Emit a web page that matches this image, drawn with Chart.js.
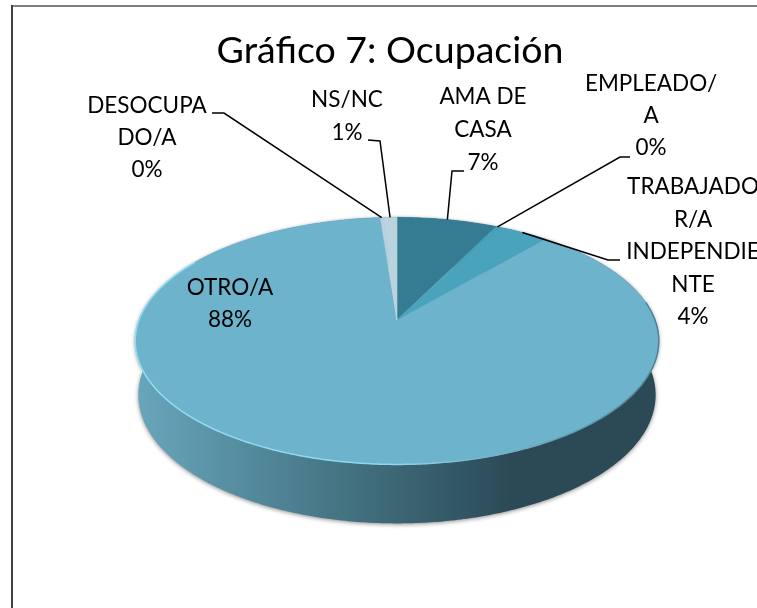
<!DOCTYPE html>
<html>
<head>
<meta charset="utf-8">
<title>Gráfico 7: Ocupación</title>
<script src="https://cdn.jsdelivr.net/npm/chart.js@4"></script>
<style>
    html, body { margin: 0; padding: 0; background: #fff; overflow: hidden; }
    canvas { display: block; }
</style>
</head>
<body>
<canvas id="chart" width="757" height="608"></canvas>
<script>
// Data (clockwise from 12 o'clock)
const categories = ["AMA DE CASA", "EMPLEADO/A", "TRABAJADOR/A INDEPENDIENTE", "OTRO/A", "DESOCUPADO/A", "NS/NC"];
const values = [7.3, 0.2, 3.7, 87.6, 0.2, 1.0];
const sliceColors = ["#357c93", "#49a3bc", "#49a3bc", "#6db3cc", "#b9d3df", "#b9d3df"];

// How Excel wrapped each label, and where it put them
const labelLines = [
    ["AMA DE", "CASA"],
    ["EMPLEADO/", "A"],
    ["TRABAJADO", "R/A", "INDEPENDIE", "NTE"],
    ["OTRO/A"],
    ["DESOCUPA", "DO/A"],
    ["NS/NC"]
];
const labelCenters = [[483, 97], [651, 84], [693, 187], [230, 288], [147, 106], [347, 100]];
const lineHeights = [33, 32, 32.5, 32, 32, 33];
// first two points of each leader, null = no leader (label sits on its slice)
const leaders = [
    [[464, 171], [452, 171]],
    [[630, 157], [620, 157]],
    [[620, 260], [608, 260]],
    null,
    [[212, 113], [224, 113]],
    [[368, 140], [380, 141]]
];

const FONT = "Lato, 'Open Sans', sans-serif";

// Excel's 3D pie is a circle seen in perspective: the centre is not the middle of the ellipse
const stretchX = 2.15;
const perspective = -0.169;
const shiftX = 7;

function project(arc, angle, radius) {
    // chart.js angles start at -PI/2, so cos/sin give a point on the flat circle
    const u = Math.cos(angle) * radius;
    const v = Math.sin(angle) * radius;
    const d = 1 + perspective * v;
    return {
        x: arc.x + shiftX + stretchX * arc.outerRadius * u / d,
        y: arc.y + arc.outerRadius * v / d,
        v: v
    };
}

function tracePoints(ctx, arc, start, end, map) {
    const steps = Math.max(2, Math.ceil(Math.abs(end - start) / 0.01));
    for (let i = 0; i <= steps; i++) {
        const p = map(project(arc, start + (end - start) * i / steps, 1));
        ctx.lineTo(p.x, p.y);
    }
}

const lowerRim = cx => p => ({
    x: cx + (p.x - cx) * 0.988,
    y: p.y + 53 + 6 * p.v
});

const pie3d = {
    id: "pie3d",
    beforeDraw(chart) {
        const ctx = chart.ctx;
        ctx.save();
        ctx.fillStyle = "#fff";
        ctx.fillRect(0, 0, chart.width, chart.height);
        ctx.fillStyle = "#7f7f7f";
        ctx.fillRect(11, 5, chart.width - 11, 2);
        ctx.fillStyle = "#404040";
        ctx.fillRect(11, 5, 2, chart.height - 5);
        ctx.restore();
    },
    beforeDatasetDraw(chart, args) {
        const ctx = chart.ctx;
        const arcs = chart.getDatasetMeta(args.index).data;

        // side wall first, the top face covers its back half
        arcs.forEach(arc => {
            const cx = arc.x + shiftX;
            const wall = ctx.createLinearGradient(cx - 260, 0, cx + 260, 0);
            wall.addColorStop(0, "#68a6bc");
            wall.addColorStop(0.42, "#42707f");
            wall.addColorStop(0.72, "#2b4a56");
            wall.addColorStop(1, "#2b4a56");
            ctx.save();
            ctx.fillStyle = wall;
            ctx.shadowColor = "rgba(0,0,0,0.45)";
            ctx.shadowBlur = 4;
            ctx.shadowOffsetY = 1;
            ctx.beginPath();
            tracePoints(ctx, arc, arc.startAngle, arc.endAngle, p => p);
            tracePoints(ctx, arc, arc.endAngle, arc.startAngle, lowerRim(cx));
            ctx.closePath();
            ctx.fill();
            ctx.restore();
        });

        // top face, biggest slice first so the small wedges sit on it without dark seams
        const order = arcs.map((arc, i) => i).sort((a, b) =>
            (arcs[b].endAngle - arcs[b].startAngle) - (arcs[a].endAngle - arcs[a].startAngle));
        order.forEach(i => {
            const arc = arcs[i];
            const apex = project(arc, 0, 0);
            ctx.save();
            ctx.fillStyle = sliceColors[i];
            ctx.strokeStyle = sliceColors[i];
            ctx.lineWidth = 0.6;
            ctx.lineJoin = "round";
            ctx.beginPath();
            ctx.moveTo(apex.x, apex.y);
            tracePoints(ctx, arc, arc.startAngle, arc.endAngle, p => p);
            ctx.closePath();
            ctx.fill();
            ctx.stroke();

            // bevel along the front rim of the big slice: light on the left, darker on the right
            if (arc.endAngle - arc.startAngle > Math.PI) {
                const cx = arc.x + shiftX;
                const edge = ctx.createLinearGradient(cx - 260, 0, cx + 260, 0);
                edge.addColorStop(0, "#93dcf2");
                edge.addColorStop(0.5, "#8fd6ec");
                edge.addColorStop(0.62, "#7fbdd2");
                edge.addColorStop(1, "#4f8296");
                ctx.strokeStyle = edge;
                ctx.lineWidth = 1.5;
                ctx.beginPath();
                tracePoints(ctx, arc, -0.15, Math.PI + 0.55, p => p);
                ctx.stroke();
            }
            ctx.restore();
        });
        return false;
    },
    afterDatasetsDraw(chart) {
        const ctx = chart.ctx;
        const arcs = chart.getDatasetMeta(0).data;
        const total = values.reduce((a, b) => a + b, 0);

        ctx.save();
        ctx.strokeStyle = "#000";
        ctx.lineWidth = 1.5;
        arcs.forEach((arc, i) => {
            if (!leaders[i]) return;
            const rim = project(arc, (arc.startAngle + arc.endAngle) / 2, 1);
            ctx.beginPath();
            ctx.moveTo(leaders[i][0][0], leaders[i][0][1]);
            ctx.lineTo(leaders[i][1][0], leaders[i][1][1]);
            ctx.lineTo(rim.x, rim.y);
            ctx.stroke();
        });

        ctx.fillStyle = "#000";
        ctx.font = "22.5px " + FONT;
        ctx.textAlign = "center";
        ctx.textBaseline = "middle";
        categories.forEach((name, i) => {
            const lines = labelLines[i].concat(Math.round(values[i] / total * 100) + "%");
            lines.forEach((line, n) => {
                ctx.fillText(line, labelCenters[i][0], labelCenters[i][1] + n * lineHeights[i]);
            });
        });
        ctx.restore();
    }
};

new Chart(document.getElementById("chart"), {
    type: "pie",
    data: {
        labels: categories,
        datasets: [{ data: values, backgroundColor: sliceColors, borderWidth: 0 }]
    },
    options: {
        responsive: false,
        animation: false,
        layout: { padding: { left: 23, right: 0, top: 0, bottom: 168 } },
        plugins: {
            legend: { display: false },
            tooltip: { enabled: false },
            title: {
                display: true,
                text: "Gráfico 7: Ocupación",
                color: "#000",
                fullSize: false,
                font: { family: FONT, size: 37.5, weight: "normal", lineHeight: 1.2 },
                padding: { top: 28, bottom: 127 }
            }
        }
    },
    plugins: [pie3d]
});
</script>
</body>
</html>
